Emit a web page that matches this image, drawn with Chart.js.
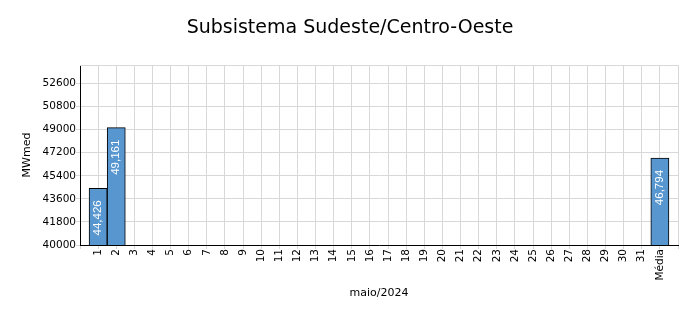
<!DOCTYPE html>
<html>
<head>
<meta charset="utf-8">
<script src="https://cdn.jsdelivr.net/npm/chart.js@4.4.0/dist/chart.umd.min.js"></script>
<style>
    body { margin: 0; background: #fff; }
    #wrap { width: 700px; height: 324px; position: relative; }
</style>
</head>
<body>
<div id="wrap"><canvas id="chart"></canvas></div>
<script>
// 数据
const chartTitle = 'Subsistema Sudeste/Centro-Oeste';
const xTitle = 'maio/2024';
const yTitle = 'MWmed';
const days = ['1', '2', '3', '4', '5', '6', '7', '8', '9', '10', '11', '12', '13', '14', '15', '16',
    '17', '18', '19', '20', '21', '22', '23', '24', '25', '26', '27', '28', '29', '30', '31'];
const dailyValues = [44426, 49161, null, null, null, null, null, null, null, null, null, null, null, null, null, null,
    null, null, null, null, null, null, null, null, null, null, null, null, null, null, null];
const meanLabel = 'Média';
const meanValue = 46794;
const yTicks = [40000, 41800, 43600, 45400, 47200, 49000, 50800, 52600];
const yMin = 40000;
const yMax = 54050;

// 空白首尾类别, 让网格线落在类别中心
const labels = [''].concat(days, [meanLabel], ['']);
const values = [null].concat(dailyValues, [meanValue], [null]);

const FONT = 'DejaVu Sans';

const titlePlugin = {
    id: 'titlePlugin',
    afterDraw(chart) {
        const ctx = chart.ctx;
        const area = chart.chartArea;
        ctx.save();
        ctx.font = '19px "' + FONT + '"';
        ctx.fillStyle = '#000';
        ctx.textAlign = 'center';
        ctx.textBaseline = 'alphabetic';
        ctx.fillText(chartTitle, 350, 33);
        // 上边的灰色边框
        ctx.strokeStyle = '#d8d8d8';
        ctx.lineWidth = 1;
        ctx.beginPath();
        ctx.moveTo(area.left, Math.round(area.top) + 0.5);
        ctx.lineTo(area.right, Math.round(area.top) + 0.5);
        ctx.stroke();
        ctx.restore();
    }
};

const valueLabels = {
    id: 'valueLabels',
    afterDatasetsDraw(chart) {
        const ctx = chart.ctx;
        const meta = chart.getDatasetMeta(0);
        ctx.save();
        ctx.font = '11.5px "Liberation Sans"';
        ctx.fillStyle = '#fff';
        ctx.textAlign = 'right';
        ctx.textBaseline = 'middle';
        meta.data.forEach((bar, i) => {
            const v = values[i];
            if (v === null || v === undefined) return;
            ctx.save();
            ctx.translate(bar.x, bar.y + 12);
            ctx.rotate(-Math.PI / 2);
            ctx.fillText(v.toLocaleString('en-US'), 0, 0);
            ctx.restore();
        });
        ctx.restore();
    }
};

new Chart(document.getElementById('chart'), {
    type: 'bar',
    data: {
        labels: labels,
        datasets: [{
            data: values,
            backgroundColor: '#5896D0',
            borderColor: '#000',
            borderWidth: 1,
            barPercentage: 1,
            categoryPercentage: 1
        }]
    },
    options: {
        responsive: true,
        maintainAspectRatio: false,
        animation: false,
        layout: { padding: { top: 65, right: 22, left: 0, bottom: 0 } },
        plugins: {
            legend: { display: false },
            tooltip: { enabled: false },
            title: { display: false }
        },
        scales: {
            x: {
                type: 'category',
                offset: false,
                afterFit(scale) { scale.height = 79; },
                grid: { color: '#d8d8d8', lineWidth: 1, tickLength: 4, offset: false },
                border: { color: '#000', width: 1 },
                ticks: {
                    autoSkip: false,
                    maxRotation: 90,
                    minRotation: 90,
                    padding: 0,
                    color: '#000',
                    font: { family: FONT, size: 10.5 }
                },
                title: {
                    display: true,
                    text: xTitle,
                    color: '#000',
                    font: { family: FONT, size: 11 },
                    padding: { top: 0, bottom: 24 }
                }
            },
            y: {
                min: yMin,
                max: yMax,
                afterFit(scale) { scale.width = 80; },
                afterBuildTicks(scale) {
                    scale.ticks = yTicks.map(v => ({ value: v }));
                },
                grid: { color: '#d8d8d8', lineWidth: 1, tickLength: 4 },
                border: { color: '#000', width: 1 },
                ticks: {
                    padding: 0,
                    color: '#000',
                    font: { family: FONT, size: 10.5 },
                    callback: v => String(v)
                },
                title: {
                    display: true,
                    text: yTitle,
                    color: '#000',
                    font: { family: FONT, size: 11 },
                    padding: { top: 21, bottom: 0 }
                }
            }
        }
    },
    plugins: [titlePlugin, valueLabels]
});
</script>
</body>
</html>
